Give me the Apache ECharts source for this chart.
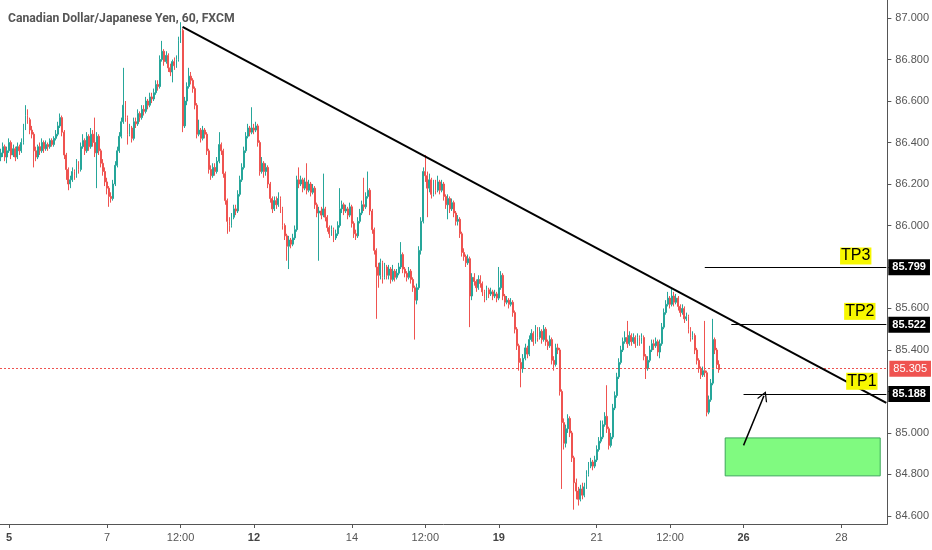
<!DOCTYPE html>
<html><head><meta charset="utf-8">
<script src="https://cdn.jsdelivr.net/npm/echarts@6/dist/echarts.min.js"></script>
<style>html,body{margin:0;padding:0;background:#fff}#c{width:932px;height:550px}</style>
</head><body><div id="c"></div>
<script>
const chartTitle = 'Canadian Dollar/Japanese Yen, 60, FXCM';
const slotCount = 435;
const tickIndex = [4, 52, 88, 124, 172, 208, 244, 292, 328, 364, 412];
const tickLabels = ['5', '7', '12:00', '12', '14', '12:00', '19', '21', '12:00', '26', '28'];
const boldLabels = ['5', '12', '19', '26'];
const priceTicks = [84.6, 84.8, 85.0, 85.2, 85.4, 85.6, 85.8, 86.0, 86.2, 86.4, 86.6, 86.8, 87.0];

const opens = [86.33,
86.35,86.38,86.33,86.36,86.40,86.34,86.37,86.33,86.38,86.36,
86.40,86.47,86.53,86.51,86.46,86.44,86.36,86.33,86.38,86.36,
86.40,86.37,86.39,86.38,86.41,86.39,86.42,86.44,86.48,86.52,
86.45,86.34,86.27,86.20,86.22,86.26,86.24,86.30,86.27,86.38,
86.41,86.36,86.43,86.38,86.44,86.40,86.35,86.43,86.36,86.30,
86.26,86.21,86.18,86.14,86.13,86.20,86.29,86.36,86.43,86.50,
86.58,86.52,86.44,86.47,86.42,86.50,86.49,86.54,86.52,86.56,
86.55,86.60,86.58,86.62,86.61,86.64,86.68,86.67,86.80,86.84,
86.79,86.82,86.76,86.74,86.79,86.77,86.80,86.89,86.94,86.48,
86.60,86.67,86.72,86.70,86.66,86.58,86.44,86.46,86.42,86.46,
86.44,86.36,86.27,86.24,86.28,86.26,86.31,86.39,86.36,86.25,
86.12,86.02,86.00,86.04,86.08,86.07,86.15,86.22,86.28,86.36,
86.43,86.47,86.45,86.47,86.46,86.48,86.40,86.26,86.30,86.26,
86.28,86.20,86.13,86.08,86.12,86.10,86.13,86.08,86.00,85.95,
85.90,85.93,85.91,85.94,85.98,86.22,86.20,86.22,86.18,86.21,
86.17,86.20,86.16,86.18,86.10,86.06,86.07,86.05,86.08,86.04,
85.99,85.96,85.98,85.94,85.96,86.00,86.08,86.10,86.07,86.08,
86.05,86.09,86.01,85.96,85.95,86.02,86.06,86.10,86.09,86.14,
86.17,86.07,85.98,85.88,85.80,85.76,85.82,85.75,85.80,85.76,
85.79,85.74,85.78,85.75,85.77,85.80,85.86,85.79,85.77,85.75,
85.78,85.74,85.70,85.64,85.70,85.88,86.02,86.26,86.24,86.18,
86.22,86.15,86.20,86.17,86.21,86.17,86.20,86.14,86.10,86.13,
86.08,86.11,86.06,86.02,86.03,85.96,85.87,85.85,85.82,85.84,
85.66,85.75,85.73,85.70,85.74,85.72,85.68,85.65,85.69,85.67,
85.68,85.66,85.67,85.65,85.70,85.76,85.66,85.63,85.64,85.62,
85.63,85.58,85.50,85.42,85.34,85.31,85.36,85.41,85.38,85.45,
85.48,85.44,85.50,85.46,85.49,85.45,85.50,85.44,85.42,85.45,
85.35,85.33,85.41,85.40,85.20,85.05,84.95,85.02,85.07,85.00,
84.88,84.76,84.72,84.68,84.73,84.70,84.74,84.80,84.84,84.86,
84.84,84.87,84.92,84.96,84.98,85.04,85.08,85.02,84.94,84.98,
85.12,85.18,85.27,85.34,85.40,85.44,85.46,85.43,85.47,85.44,
85.46,85.43,85.46,85.44,85.46,85.37,85.31,85.35,85.40,85.43,
85.42,85.44,85.39,85.43,85.51,85.58,85.62,85.65,85.62,85.66,
85.63,85.65,85.61,85.58,85.60,85.55,85.56,85.50,85.46,85.47,
85.40,85.35,85.31,85.28,85.30,85.29,85.10,85.16,85.24,85.45,
85.40,85.33];

const closes = [
86.35,86.38,86.33,86.36,86.40,86.34,86.37,86.33,86.38,86.36,
86.40,86.47,86.53,86.51,86.46,86.44,86.36,86.33,86.38,86.36,
86.40,86.37,86.39,86.38,86.41,86.39,86.42,86.44,86.48,86.52,
86.45,86.34,86.27,86.20,86.22,86.26,86.24,86.30,86.27,86.38,
86.41,86.36,86.43,86.38,86.44,86.40,86.35,86.43,86.36,86.30,
86.26,86.21,86.18,86.14,86.13,86.20,86.29,86.36,86.43,86.50,
86.58,86.52,86.44,86.47,86.42,86.50,86.49,86.54,86.52,86.56,
86.55,86.60,86.58,86.62,86.61,86.64,86.68,86.67,86.80,86.84,
86.79,86.82,86.76,86.74,86.79,86.77,86.80,86.89,86.94,86.48,
86.60,86.67,86.72,86.70,86.66,86.58,86.44,86.46,86.42,86.46,
86.44,86.36,86.27,86.24,86.28,86.26,86.31,86.39,86.36,86.25,
86.12,86.02,86.00,86.04,86.08,86.07,86.15,86.22,86.28,86.36,
86.43,86.47,86.45,86.47,86.46,86.48,86.40,86.26,86.30,86.26,
86.28,86.20,86.13,86.08,86.12,86.10,86.13,86.08,86.00,85.95,
85.90,85.93,85.91,85.94,85.98,86.22,86.20,86.22,86.18,86.21,
86.17,86.20,86.16,86.18,86.10,86.06,86.07,86.05,86.08,86.04,
85.99,85.96,85.98,85.94,85.96,86.00,86.08,86.10,86.07,86.08,
86.05,86.09,86.01,85.96,85.95,86.02,86.06,86.10,86.09,86.14,
86.17,86.07,85.98,85.88,85.80,85.76,85.82,85.75,85.80,85.76,
85.79,85.74,85.78,85.75,85.77,85.80,85.86,85.79,85.77,85.75,
85.78,85.74,85.70,85.64,85.70,85.88,86.02,86.26,86.24,86.18,
86.22,86.15,86.20,86.17,86.21,86.17,86.20,86.14,86.10,86.13,
86.08,86.11,86.06,86.02,86.03,85.96,85.87,85.85,85.82,85.84,
85.66,85.75,85.73,85.70,85.74,85.72,85.68,85.65,85.69,85.67,
85.68,85.66,85.67,85.65,85.70,85.76,85.66,85.63,85.64,85.62,
85.63,85.58,85.50,85.42,85.34,85.31,85.36,85.41,85.38,85.45,
85.48,85.44,85.50,85.46,85.49,85.45,85.50,85.44,85.42,85.45,
85.35,85.33,85.41,85.40,85.20,85.05,84.95,85.02,85.07,85.00,
84.88,84.76,84.72,84.68,84.73,84.70,84.74,84.80,84.84,84.86,
84.84,84.87,84.92,84.96,84.98,85.04,85.08,85.02,84.94,84.98,
85.12,85.18,85.27,85.34,85.40,85.44,85.46,85.43,85.47,85.44,
85.46,85.43,85.46,85.44,85.46,85.37,85.31,85.35,85.40,85.43,
85.42,85.44,85.39,85.43,85.51,85.58,85.62,85.65,85.62,85.66,
85.63,85.65,85.61,85.58,85.60,85.55,85.56,85.50,85.46,85.47,
85.40,85.35,85.31,85.28,85.30,85.29,85.10,85.16,85.24,85.45,
85.40,85.33,85.305];

const highs = [
86.37,86.40,86.39,86.38,86.42,86.41,86.39,86.38,86.40,86.39,
86.42,86.49,86.58,86.56,86.52,86.48,86.45,86.38,86.39,86.40,
86.42,86.41,86.41,86.40,86.42,86.42,86.43,86.46,86.50,86.54,
86.53,86.46,86.35,86.28,86.24,86.28,86.27,86.32,86.31,86.40,
86.44,86.42,86.45,86.44,86.47,86.46,86.52,86.45,86.44,86.37,
86.32,86.28,86.23,86.19,86.16,86.22,86.31,86.38,86.45,86.52,
86.76,86.60,86.53,86.49,86.48,86.52,86.52,86.56,86.55,86.58,
86.58,86.62,86.61,86.64,86.64,86.66,86.70,86.70,86.82,86.89,
86.85,86.84,86.83,86.78,86.80,86.81,86.82,86.91,86.98,86.95,
86.62,86.69,86.76,86.74,86.71,86.67,86.59,86.51,86.47,86.48,
86.47,86.45,86.37,86.29,86.30,86.30,86.33,86.45,86.40,86.37,
86.26,86.13,86.04,86.06,86.10,86.10,86.17,86.24,86.30,86.38,
86.45,86.49,86.48,86.57,86.49,86.50,86.49,86.41,86.33,86.31,
86.30,86.29,86.21,86.14,86.14,86.14,86.16,86.14,86.09,86.01,
85.96,85.95,85.94,85.96,86.00,86.24,86.28,86.24,86.23,86.23,
86.30,86.22,86.21,86.20,86.19,86.11,86.09,86.09,86.25,86.09,
86.05,86.00,86.00,85.99,85.98,86.02,86.18,86.12,86.11,86.10,
86.09,86.11,86.10,86.02,85.98,86.04,86.08,86.12,86.23,86.16,
86.26,86.18,86.08,85.99,85.89,85.82,85.84,85.83,85.82,85.81,
85.81,85.80,85.81,85.79,85.79,85.82,85.92,85.87,85.80,85.78,
85.80,85.79,85.75,85.71,85.72,85.90,86.04,86.28,86.34,86.26,
86.25,86.23,86.22,86.22,86.24,86.22,86.22,86.21,86.15,86.15,
86.14,86.13,86.12,86.07,86.05,86.04,85.97,85.89,85.86,85.86,
85.85,85.77,85.77,85.74,85.76,85.76,85.73,85.69,85.71,85.70,
85.70,85.69,85.69,85.68,85.80,85.78,85.77,85.67,85.66,85.65,
85.65,85.64,85.59,85.51,85.43,85.36,85.38,85.43,85.42,85.47,
85.50,85.49,85.52,85.51,85.51,85.50,85.52,85.51,85.45,85.47,
85.46,85.37,85.43,85.43,85.41,85.21,85.07,85.04,85.09,85.08,
85.01,84.89,84.78,84.74,84.75,84.76,84.76,84.82,84.86,84.88,
84.87,84.89,84.94,84.98,85.06,85.06,85.10,85.23,85.03,85.00,
85.14,85.20,85.29,85.36,85.42,85.46,85.49,85.54,85.49,85.48,
85.48,85.47,85.48,85.47,85.48,85.47,85.38,85.37,85.42,85.45,
85.45,85.46,85.45,85.45,85.53,85.60,85.64,85.68,85.66,85.70,
85.68,85.67,85.66,85.62,85.62,85.61,85.58,85.57,85.51,85.49,
85.48,85.41,85.36,85.32,85.32,85.54,85.30,85.18,85.26,85.55,
85.46,85.41,85.35];

const lows = [
86.31,86.33,86.31,86.30,86.35,86.32,86.33,86.31,86.32,86.34,
86.35,86.39,86.46,86.49,86.44,86.42,86.28,86.31,86.32,86.34,
86.35,86.35,86.36,86.36,86.37,86.38,86.38,86.41,86.43,86.47,
86.43,86.32,86.22,86.17,86.18,86.21,86.22,86.23,86.25,86.26,
86.37,86.34,86.35,86.36,86.37,86.38,86.33,86.18,86.34,86.28,
86.24,86.19,86.15,86.09,86.11,86.12,86.19,86.28,86.35,86.42,
86.49,86.50,86.39,86.43,86.40,86.41,86.47,86.48,86.50,86.51,
86.53,86.54,86.56,86.57,86.59,86.60,86.63,86.65,86.66,86.79,
86.77,86.78,86.74,86.72,86.69,86.75,86.76,86.79,86.88,86.45,
86.47,86.58,86.66,86.68,86.64,86.56,86.42,86.43,86.40,86.41,
86.42,86.34,86.25,86.22,86.23,86.24,86.25,86.30,86.34,86.23,
86.10,85.96,85.97,85.99,86.03,86.05,86.06,86.14,86.21,86.27,
86.35,86.42,86.43,86.44,86.44,86.45,86.38,86.24,86.25,86.23,
86.24,86.18,86.11,86.06,86.07,86.08,86.09,86.06,85.98,85.93,
85.83,85.79,85.89,85.90,85.93,85.97,86.18,86.19,86.16,86.17,
86.15,86.16,86.14,86.15,86.08,86.04,85.83,86.03,86.04,86.02,
85.97,85.94,85.95,85.92,85.93,85.95,85.99,86.06,86.05,86.06,
86.03,86.04,85.99,85.94,85.93,85.94,86.01,86.05,86.07,86.08,
86.13,86.05,85.96,85.86,85.55,85.70,85.74,85.72,85.74,85.74,
85.74,85.72,85.73,85.73,85.74,85.76,85.79,85.77,85.75,85.73,
85.74,85.72,85.68,85.45,85.62,85.69,85.86,86.01,86.21,86.04,
86.16,86.13,86.14,86.15,86.16,86.15,86.16,86.12,86.08,86.03,
86.06,86.07,86.04,86.00,86.00,85.94,85.85,85.83,85.80,85.81,
85.51,85.64,85.71,85.68,85.69,85.70,85.66,85.63,85.64,85.65,
85.66,85.64,85.65,85.63,85.64,85.69,85.64,85.61,85.62,85.60,
85.61,85.56,85.48,85.40,85.30,85.22,85.29,85.35,85.36,85.37,
85.44,85.42,85.43,85.44,85.45,85.43,85.44,85.42,85.40,85.41,
85.33,85.30,85.32,85.38,85.18,84.73,84.92,84.93,85.00,84.98,
84.86,84.63,84.68,84.65,84.67,84.68,84.69,84.73,84.79,84.83,
84.82,84.83,84.86,84.91,84.95,84.97,85.03,85.00,84.92,84.93,
84.97,85.11,85.17,85.26,85.33,85.39,85.43,85.41,85.42,85.42,
85.43,85.41,85.42,85.42,85.43,85.35,85.26,85.30,85.34,85.39,
85.40,85.41,85.37,85.36,85.42,85.50,85.57,85.61,85.60,85.61,
85.61,85.62,85.59,85.56,85.57,85.53,85.54,85.48,85.44,85.45,
85.38,85.33,85.29,85.26,85.27,85.27,85.08,85.09,85.15,85.23,
85.38,85.31,85.29];

const lastPrice = 85.305;
const tpNames = ['TP1', 'TP2', 'TP3'];
const tpLevels = [85.188, 85.522, 85.799];
const tpStartSlot = [364, 358, 345];
const tpTagSlot = [422, 421, 419];
const tpTagPrice = [85.249, 85.586, 85.853];
const trendStart = [89, 86.957];
const trendEnd = [434, 85.145];
const arrowFrom = [364, 84.94];
const arrowTo = [374, 85.179];
const zoneFrom = [355, 84.976];
const zoneTo = [431, 84.793];

const cats = Array.from({length: slotCount}, (_, i) => String(i));
const candles = opens.map((o, i) => [o, closes[i], lows[i], highs[i]]);
const isTick = (i) => tickIndex.indexOf(i) >= 0;

const priceTag = (bg) => ({
  show: true, position: 'end', distance: 2, backgroundColor: bg, color: '#fff',
  fontSize: 11, fontWeight: 'bold', padding: [3, 4, 2, 4], fontFamily: 'Liberation Sans'
});

const lines = [
  {yAxis: lastPrice, lineStyle: {color: '#ef5350', type: [2, 2], width: 1},
   label: Object.assign(priceTag('#ef5350'), {fontWeight: 'normal', formatter: lastPrice.toFixed(3)})}
];
tpLevels.forEach((p, k) => {
  lines.push([
    {coord: [tpStartSlot[k], p], lineStyle: {color: '#000', width: 1, type: 'solid'},
     label: Object.assign(priceTag('#000'), {formatter: p.toFixed(3)})},
    {coord: [slotCount - 1, p]}
  ]);
});
lines.push([
  {coord: trendStart, lineStyle: {color: '#000', width: 2, type: 'solid'}, label: {show: false}},
  {coord: trendEnd}
]);
lines.push([
  {coord: arrowFrom, symbol: 'none', lineStyle: {color: '#000', width: 1.5, type: 'solid'}, label: {show: false}},
  {coord: arrowTo, symbol: 'path://M0,12 L6,0 L12,12 L10.5,12 L6,3 L1.5,12 Z', symbolSize: [11, 10]}
]);

const chart = echarts.init(document.getElementById('c'), null, {renderer: 'canvas'});
chart.setOption({
  animation: false,
  backgroundColor: '#fff',
  textStyle: {fontFamily: 'Liberation Sans'},
  title: {text: chartTitle, left: 3, top: 8,
    textStyle: {fontSize: 12.2, fontWeight: 'bold', color: '#555', fontFamily: 'Roboto'}},
  grid: {left: 0, right: 44, top: 0, bottom: 26},
  xAxis: {
    type: 'category', data: cats, boundaryGap: true,
    axisLine: {show: true, lineStyle: {color: '#555', width: 1}},
    axisTick: {show: true, alignWithLabel: true, interval: (i) => isTick(i), length: 4, lineStyle: {color: '#555'}},
    axisLabel: {
      interval: (i) => isTick(i), margin: 8, color: '#555', fontSize: 11,
      formatter: (v, i) => {
        const k = tickIndex.indexOf(Number(v));
        if (k < 0) return '';
        const t = tickLabels[k];
        return boldLabels.indexOf(t) >= 0 ? '{b|' + t + '}' : t;
      },
      rich: {b: {fontWeight: 'bold', color: '#444', fontSize: 11}}
    },
    splitLine: {show: false}
  },
  yAxis: {
    type: 'value', position: 'right', min: 84.561, max: 87.087, scale: true,
    axisLine: {show: true, lineStyle: {color: '#555', width: 1}},
    axisTick: {show: true, customValues: priceTicks, length: 4, lineStyle: {color: '#555'}},
    axisLabel: {customValues: priceTicks, formatter: (v) => v.toFixed(3), color: '#555', fontSize: 11, margin: 8},
    splitLine: {show: false}
  },
  series: [{
    type: 'candlestick',
    data: candles,
    barWidth: 1.4,
    clip: false,
    itemStyle: {color: '#26a69a', color0: '#ef5350', borderColor: '#26a69a', borderColor0: '#ef5350', borderWidth: 1},
    markArea: {
      silent: true,
      itemStyle: {color: '#80fa80', borderColor: '#3aa65a', borderWidth: 1},
      data: [[{coord: zoneFrom}, {coord: zoneTo}]]
    },
    markLine: {silent: true, symbol: 'none', animation: false, data: lines},
    markPoint: {
      silent: true, symbol: 'rect', symbolSize: 1, itemStyle: {color: 'rgba(0,0,0,0)'},
      label: {show: true, position: 'inside', formatter: '{b}', color: '#000', fontSize: 16,
        backgroundColor: '#f7f700', padding: [1, 1, 0, 1], fontFamily: 'Liberation Sans'},
      data: tpNames.map((n, k) => ({name: n, coord: [tpTagSlot[k], tpTagPrice[k]]}))
    }
  }]
});
</script></body></html>
